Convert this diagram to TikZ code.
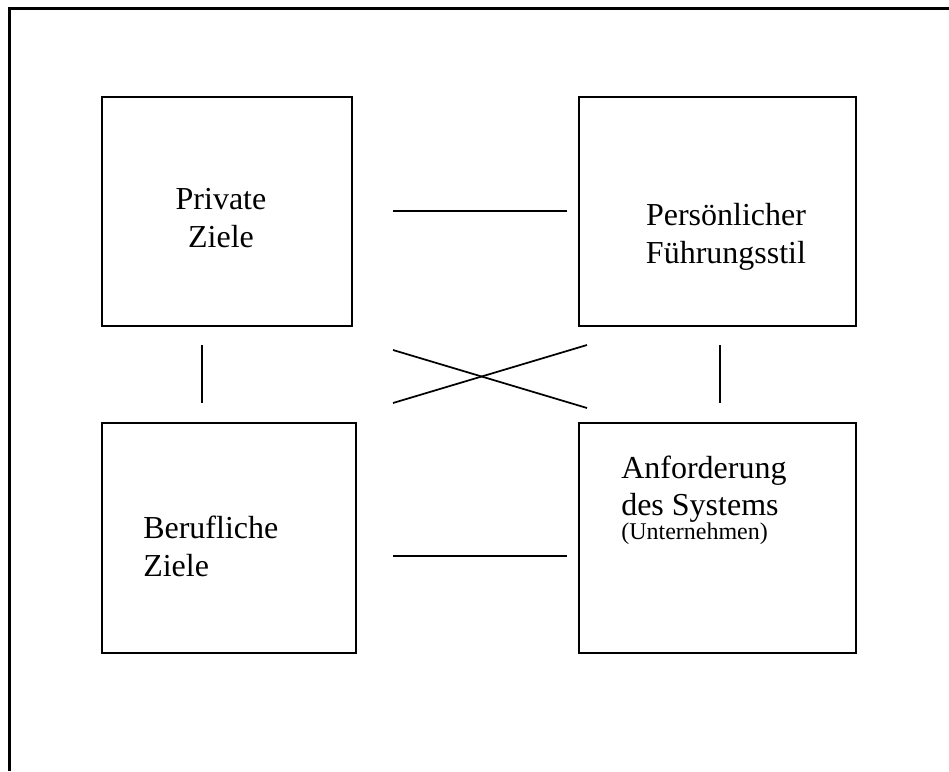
\documentclass[tikz,border=0pt]{standalone}
\usepackage{fontspec}
\setmainfont{Liberation Serif}

\begin{document}
\begin{tikzpicture}[x=0.75pt,y=-0.75pt]
    \tikzset{kasten/.style={draw,line width=1.3pt,anchor=north west,inner sep=0pt},
      schrift/.style={inner sep=0pt,font=\fontsize{24}{28.5}\selectfont},
      linie/.style={line width=1.3pt}}
    \useasboundingbox (0,0) rectangle (949,771);
    \draw[line width=1.6pt] (9.5,771) -- (9.5,8.5) -- (949,8.5);
    \node[kasten,minimum width=187.5pt,minimum height=171.75pt] (privat) at (101,96) {};
    \node[kasten,minimum width=207.75pt,minimum height=171.75pt] (stil) at (578,96) {};
    \node[kasten,minimum width=190.5pt,minimum height=172.5pt] (beruf) at (101,422) {};
    \node[kasten,minimum width=207.75pt,minimum height=172.5pt] (system) at (578,422) {};
    \node[schrift,anchor=north,align=center] (privattext) at (221,188) {Private\\Ziele};
    \node[schrift,anchor=north,align=center] (stiltext) at (726,203) {Persönlicher\\Führungsstil};
    \node[schrift,anchor=north west,align=left] (berufstext) at (143,516) {Berufliche\\Ziele};
    \node[schrift,anchor=north west,align=left] (systemtext) at (621,456) {Anforderung\\[-1pt]des Systems\\[-10.5pt]{\fontsize{18}{20}\selectfont(Unternehmen)}};
    \coordinate (o1) at (393,211);
    \coordinate (o2) at (567,211);
    \coordinate (u1) at (393,556);
    \coordinate (u2) at (567,556);
    \coordinate (l1) at (202,345);
    \coordinate (l2) at (202,403);
    \coordinate (r1) at (720,345);
    \coordinate (r2) at (720,403);
    \coordinate (k1) at (393,350);
    \coordinate (k2) at (587,408);
    \coordinate (k3) at (393,403);
    \coordinate (k4) at (587,345);
    \draw[linie] (o1) -- (o2);
    \draw[linie] (u1) -- (u2);
    \draw[linie] (l1) -- (l2);
    \draw[linie] (r1) -- (r2);
    \draw[linie] (k1) -- (k2);
    \draw[linie] (k3) -- (k4);
  \end{tikzpicture}
\end{document}
